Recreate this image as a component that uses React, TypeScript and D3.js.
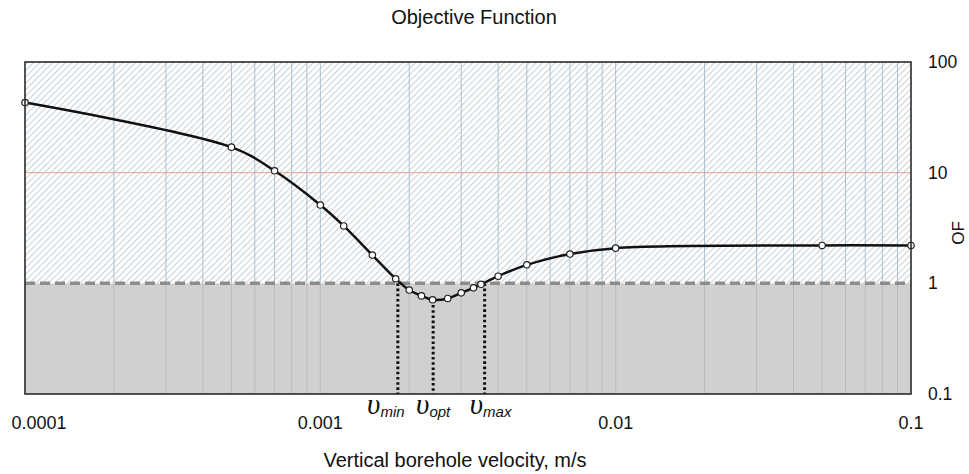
import React from "react";
import * as d3 from "d3";

const velocity = [0.0001, 0.0005, 0.0007, 0.001, 0.0012, 0.0015, 0.0018, 0.002, 0.0022, 0.0024, 0.0027, 0.003, 0.0033, 0.0035, 0.004, 0.005, 0.007, 0.01, 0.05, 0.1];
const ofValues = [43, 17, 10.4, 5.1, 3.3, 1.8, 1.1, 0.87, 0.77, 0.71, 0.73, 0.82, 0.91, 0.98, 1.16, 1.47, 1.84, 2.08, 2.2, 2.2];

const xTicks = [0.0001, 0.001, 0.01, 0.1];
const xTickLabels = ["0.0001", "0.001", "0.01", "0.1"];
const yTicks = [0.1, 1, 10, 100];
const yTickLabels = ["0.1", "1", "10", "100"];

const critNames = ["min", "opt", "max"];
const critVelocity = [0.00183, 0.00241, 0.0036];
const critOF = [1, 0.71, 1];
const critLabelShift = [-12, 0, 6];

const threshold = 1;

const W = 969;
const H = 474;
const M = { left: 25, right: 911, top: 62, bottom: 394 };

export default function App() {
  const x = d3.scaleLog().domain([0.0001, 0.1]).range([M.left, M.right]);
  const y = d3.scaleLog().domain([0.1, 100]).range([M.bottom, M.top]);

  const minorX: number[] = [];
  for (let e = -4; e < -1; e++) {
    for (let k = 1; k <= 9; k++) {
      const v = k * Math.pow(10, e);
      if (v > 0.0001 && v < 0.1) minorX.push(v);
    }
  }

  const pts = velocity.map((v, i) => [x(v), y(ofValues[i])] as [number, number]);
  const line = d3.line().curve(d3.curveCatmullRom.alpha(0.5))(pts) || "";

  const yThr = y(threshold);
  const font = "'Liberation Sans', Arial, sans-serif";

  return (
    <svg width={W} height={H} style={{ position: "absolute", left: 0, top: 0, display: "block", background: "#fff" }}>
      <defs>
        <pattern id="hatch" patternUnits="userSpaceOnUse" width={4.5} height={4.5} patternTransform="rotate(45)">
          <rect width={4.5} height={4.5} fill="#ffffff" />
          <line x1={0} y1={0} x2={0} y2={4.5} stroke="#c6d0d8" strokeWidth={2} />
        </pattern>
      </defs>

      <text x={474} y={24} textAnchor="middle" fontFamily={font} fontSize={20} fill="#111">Objective Function</text>

      {/* background regions */}
      <rect x={M.left} y={M.top} width={M.right - M.left} height={yThr - M.top} fill="url(#hatch)" />
      <rect x={M.left} y={yThr} width={M.right - M.left} height={M.bottom - yThr} fill="#d0d0d0" />

      {/* vertical gridlines */}
      {minorX.map((v, i) => (
        <g key={"g" + i}>
          <line x1={x(v)} x2={x(v)} y1={M.top} y2={yThr} stroke="#a9c1d0" strokeWidth={1} />
          <line x1={x(v)} x2={x(v)} y1={yThr} y2={M.bottom} stroke="#bababa" strokeWidth={1} />
        </g>
      ))}
      {/* horizontal gridline */}
      <line x1={M.left} x2={M.right} y1={y(10)} y2={y(10)} stroke="#e2a48c" strokeWidth={1} />

      {/* threshold dashed */}
      <line x1={M.left} x2={M.right} y1={yThr} y2={yThr} stroke="#8c8c8c" strokeWidth={3.5} strokeDasharray="10 5" />

      {/* critical dotted lines */}
      {critVelocity.map((v, i) => (
        <line key={"c" + i} x1={x(v)} x2={x(v)} y1={y(critOF[i])} y2={M.bottom} stroke="#111" strokeWidth={3} strokeDasharray="2.6 2.6" />
      ))}

      {/* curve */}
      <path d={line} fill="none" stroke="#111" strokeWidth={2.5} />
      {pts.map((p, i) => (
        <circle key={"p" + i} cx={p[0]} cy={p[1]} r={3.2} fill="#fff" stroke="#222" strokeWidth={1.2} />
      ))}

      {/* frame */}
      <rect x={M.left} y={M.top} width={M.right - M.left} height={M.bottom - M.top} fill="none" stroke="#2a2a2a" strokeWidth={1.6} />

      {/* x ticks */}
      {xTicks.map((t, i) => (
        <text key={"xt" + i} x={x(t) + (i === 0 ? 14 : 0)} y={429} textAnchor="middle" fontFamily={font} fontSize={18} fill="#111">{xTickLabels[i]}</text>
      ))}
      {/* y ticks */}
      {yTicks.map((t, i) => (
        <text key={"yt" + i} x={928} y={y(t) + 6} textAnchor="start" fontFamily={font} fontSize={17.5} fill="#111">{yTickLabels[i]}</text>
      ))}
      <text transform={`translate(964, ${233}) rotate(-90)`} textAnchor="middle" fontFamily={font} fontSize={17} fill="#111">OF</text>

      {/* critical labels */}
      {critVelocity.map((v, i) => (
        <text key={"cl" + i} x={x(v) + critLabelShift[i]} y={414} textAnchor="middle" fill="#111">
          <tspan fontFamily="'Liberation Serif', 'DejaVu Serif', serif" fontStyle="italic" fontSize={29}>υ</tspan>
          <tspan fontFamily={font} fontStyle="italic" fontSize={15} dy={3}>{critNames[i]}</tspan>
        </text>
      ))}

      <text x={455} y={467} textAnchor="middle" fontFamily={font} fontSize={20} fill="#111">Vertical borehole velocity, m/s</text>
    </svg>
  );
}
